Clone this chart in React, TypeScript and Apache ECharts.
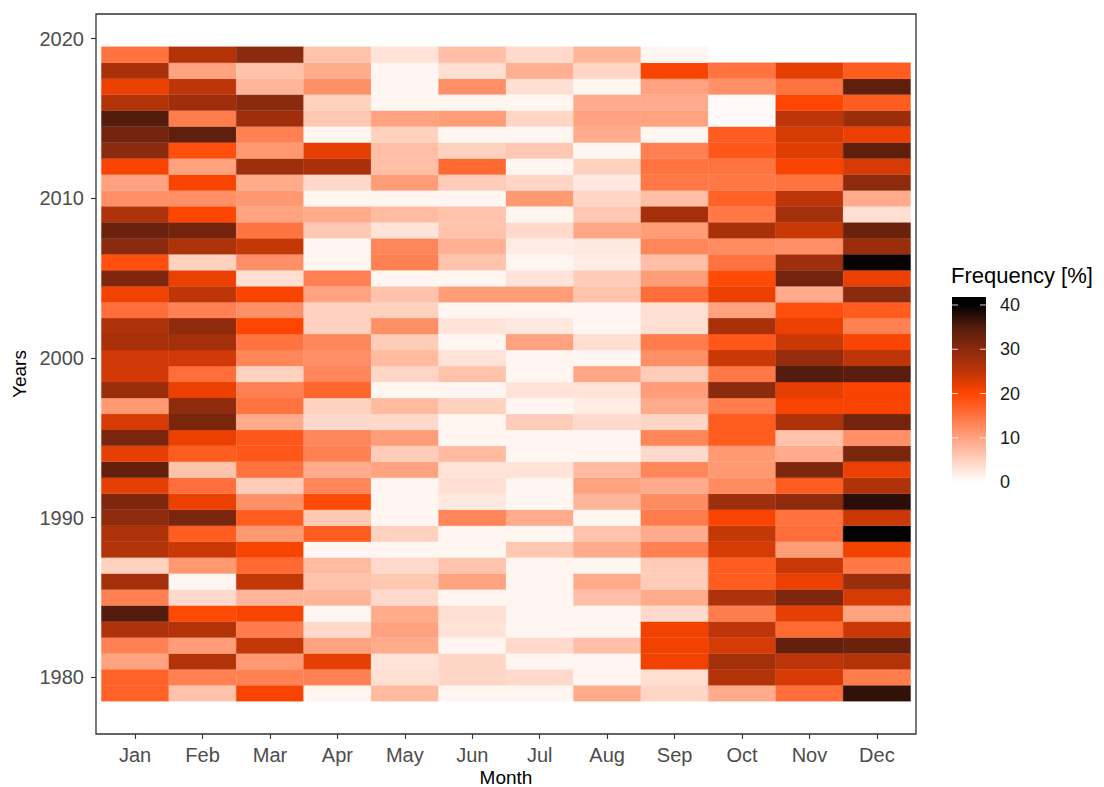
import React, { useEffect, useRef } from 'react';
import * as echarts from 'echarts';

const months = ['Jan', 'Feb', 'Mar', 'Apr', 'May', 'Jun', 'Jul', 'Aug', 'Sep', 'Oct', 'Nov', 'Dec'];
const firstYear = 1979;
const yearTicks = [1980, 1990, 2000, 2010, 2020];
const legendTicks = [0, 10, 20, 30, 40];
const colorStops = ['#FFFFFF', '#FFD1BF', '#FFA27F', '#FF7340', '#FF4500', '#BD3508', '#8A2A0E', '#541C0D', '#000000'];

// Frequency [%] per month, years 1979 .. 2019
const jan = [17, 17, 10, 13.5, 26.5, 35, 13.5, 27.5, 5, 26, 26.5, 29.5, 31, 22, 33.5, 22, 31.5, 23, 11, 28.5, 23.5, 23.5, 27, 26.5, 15.5, 21, 31, 19, 30, 33, 26.5, 12, 10, 20.5, 30, 32, 35, 26, 21.5, 27, 15];
const feb = [6.5, 13.5, 26, 10.5, 26, 19.5, 4, 1, 11, 24, 17.5, 31.5, 21.5, 15.5, 6.5, 17.5, 21.5, 31.5, 29.5, 21.5, 15.5, 23.5, 27.5, 29.5, 13.5, 25, 21.5, 5, 26.5, 32, 20, 12, 20.5, 10, 19, 34, 14, 28, 25, 10, 26];
const mar = [20.5, 13.5, 11, 24.5, 14, 20.5, 8, 24.5, 16, 20.5, 11, 17.5, 12, 5.5, 15, 18, 18, 9, 15, 13.5, 5, 13, 15, 20, 12, 20.5, 3.5, 12, 24.5, 15, 10, 11, 9, 28, 11, 13.5, 28, 30, 8, 6.5, 30];
const apr = [1, 13.5, 22, 10, 4, 1, 8, 6.5, 7.5, 1, 17.5, 6, 19.5, 13, 9, 13.5, 13, 4, 5, 16.5, 13, 12, 13, 5, 5, 10, 13.5, 1, 1, 6, 9, 1, 4, 27, 22, 1, 6, 5, 12, 9, 6.5];
const may = [7.5, 3.5, 3, 9, 10, 9, 4, 6, 4, 1, 5, 1, 1, 1, 10, 5.5, 10.5, 4, 7.5, 1, 4.5, 7.5, 5.5, 12, 5, 6.5, 1, 13.5, 13, 3, 7.5, 1, 10.5, 7, 7, 5, 10, 1, 1, 1, 3];
const jun = [1, 4.5, 4.5, 1, 3, 3.5, 1, 10, 6.5, 1, 1, 13, 2.5, 3.5, 3, 7.5, 1, 1, 5, 1, 6.5, 3, 1, 3, 1, 10.5, 1, 6.5, 8.5, 6.5, 6.5, 1, 5.5, 16, 5, 1, 10.5, 1, 12, 3.5, 7];
const jul = [1, 4, 1, 4, 1, 1, 1, 1, 1, 6, 1, 9, 1, 1, 3, 1, 1, 5.5, 1, 3, 1, 1, 10, 2.5, 1, 10.5, 3, 1, 2, 4, 1, 11, 4.5, 1, 6, 1, 4.5, 1, 3.5, 8.5, 4];
const aug = [9, 1, 1, 7, 1, 1, 7, 9, 1, 9, 6.5, 1, 8, 10, 7.5, 1, 1, 4, 2, 3, 9.5, 1, 3.5, 1, 1, 6.5, 5.5, 2, 2.5, 9.5, 6, 4.5, 2.5, 5, 1, 9, 10, 9, 1, 4.5, 8];
const sep = [4.5, 3.5, 21, 21, 21, 4, 9, 5.5, 5.5, 13.5, 9, 14, 12.5, 9, 13, 4, 13, 4.5, 9, 10.5, 5.5, 12, 14, 3.5, 3.5, 15.5, 10.5, 7, 13, 10.5, 27.5, 7, 14.5, 15, 13.5, 1, 10, 9, 10, 20.5, 1];
const oct = [9, 26, 27.5, 23, 25, 14, 26.5, 17.5, 17.5, 23, 24.5, 20.5, 28, 12.5, 11, 11, 17.5, 17.5, 14, 30, 14.5, 24, 18, 27, 10, 21.5, 19.5, 15, 12.5, 27, 14.5, 17, 14.5, 15, 18, 17.5, 0.5, 0.5, 12, 15, null];
const nov = [15.5, 23, 25, 33.5, 16, 22, 31, 21.5, 24, 10.5, 15.5, 15, 29.5, 17.5, 31, 9, 6.5, 26.5, 20.5, 22, 35, 29, 24, 21.5, 19, 9, 32, 28, 12, 24, 27.5, 25, 15, 20.5, 22.5, 23, 25, 20, 15, 22, null];
const dec = [37, 14, 26, 33, 24, 10, 23, 28.5, 14.5, 21, 40, 24, 37.5, 26.5, 21.5, 31.5, 12, 32, 20.5, 20.5, 34.5, 25, 20.5, 13.5, 17.5, 30, 21.5, 39.5, 28.5, 33, 3.5, 9, 29.5, 23, 34, 21.5, 28.5, 17.5, 34, 17.5, null];

const monthSeries = [jan, feb, mar, apr, may, jun, jul, aug, sep, oct, nov, dec];

const FONT = '"Liberation Sans", Arial, Helvetica, sans-serif';

export default function App() {
  const ref = useRef<HTMLDivElement>(null);

  useEffect(() => {
    if (!ref.current) return;
    const chart = echarts.init(ref.current, null, { renderer: 'svg' });

    const data: (number | null)[][] = [];
    monthSeries.forEach((vals, mi) => {
      vals.forEach((v, yi) => {
        if (v !== null && v !== undefined) data.push([mi, firstYear + yi, v]);
      });
    });

    // legend geometry
    const barTop = 297;
    const barBottom = 487;
    const barMaxV = 41.8;
    const barMinV = -1.1;
    const barX = 952;
    const barW = 34;
    const yOf = (v: number) => barBottom - ((v - barMinV) / (barMaxV - barMinV)) * (barBottom - barTop);
    const gradStops: { offset: number; color: string }[] = [{ offset: 0, color: '#000000' }];
    for (let i = colorStops.length - 1; i >= 0; i--) {
      const v = (i * 40) / (colorStops.length - 1);
      gradStops.push({ offset: (barMaxV - v) / (barMaxV - barMinV), color: colorStops[i] });
    }
    gradStops.push({ offset: 1, color: '#FFFFFF' });

    const legendGraphics: any[] = [
      {
        type: 'text',
        x: 951,
        y: 275,
        style: { text: 'Frequency [%]', font: `22px ${FONT}`, fill: '#000000', textVerticalAlign: 'middle', textAlign: 'left' },
      },
      {
        type: 'rect',
        shape: { x: barX, y: barTop, width: barW, height: barBottom - barTop },
        style: { fill: new echarts.graphic.LinearGradient(0, 0, 0, 1, gradStops) },
      },
    ];
    legendTicks.forEach((t) => {
      const y = yOf(t);
      legendGraphics.push({
        type: 'line',
        shape: { x1: barX, y1: y, x2: barX + 6, y2: y },
        style: { stroke: 'rgba(255,255,255,0.8)', lineWidth: 1 },
      });
      legendGraphics.push({
        type: 'line',
        shape: { x1: barX + barW - 6, y1: y, x2: barX + barW, y2: y },
        style: { stroke: 'rgba(255,255,255,0.8)', lineWidth: 1 },
      });
      legendGraphics.push({
        type: 'text',
        x: 1000,
        y,
        style: { text: String(t), font: `18px ${FONT}`, fill: '#1A1A1A', textVerticalAlign: 'middle', textAlign: 'left' },
      });
    });

    const option: any = {
      animation: false,
      backgroundColor: '#FFFFFF',
      textStyle: { fontFamily: FONT },
      grid: {
        left: 96,
        right: 188,
        top: 14,
        bottom: 53,
        containLabel: false,
        outerBoundsMode: 'none',
        show: true,
        borderColor: '#333333',
        borderWidth: 1.3,
        backgroundColor: 'transparent',
      },
      xAxis: {
        type: 'value',
        min: -0.58,
        max: 11.58,
        name: 'Month',
        nameLocation: 'middle',
        nameGap: 34,
        nameMoveOverlap: false,
        nameTextStyle: { fontSize: 19, lineHeight: 18, color: '#000000', fontFamily: FONT },
        axisLine: { show: false, onZero: false },
        splitLine: { show: false },
        axisTick: {
          show: true,
          customValues: months.map((_, i) => i),
          length: 5,
          lineStyle: { color: '#333333', width: 1.1 },
        },
        axisLabel: {
          customValues: months.map((_, i) => i),
          formatter: (v: number) => months[Math.round(v)] ?? '',
          fontSize: 20,
          color: '#4D4D4D',
          margin: 11,
          fontFamily: FONT,
        },
      },
      yAxis: {
        type: 'value',
        min: 1976.45,
        max: 2021.55,
        name: 'Years',
        nameLocation: 'middle',
        nameGap: 58,
        nameTextStyle: { fontSize: 19, color: '#000000', fontFamily: FONT },
        axisLine: { show: false, onZero: false },
        splitLine: { show: false },
        axisTick: {
          show: true,
          customValues: yearTicks,
          length: 5,
          lineStyle: { color: '#333333', width: 1.1 },
        },
        axisLabel: {
          customValues: yearTicks,
          formatter: (v: number) => String(Math.round(v)),
          fontSize: 20,
          color: '#4D4D4D',
          margin: 12,
          fontFamily: FONT,
        },
      },
      visualMap: {
        type: 'continuous',
        show: false,
        min: 0,
        max: 40,
        dimension: 2,
        seriesIndex: 0,
        inRange: { color: colorStops },
      },
      series: [
        {
          type: 'custom',
          data,
          encode: { x: 0, y: 1 },
          renderItem: (params: any, api: any) => {
            const x = api.value(0);
            const y = api.value(1);
            const p1 = api.coord([x - 0.5, y + 0.5]);
            const p2 = api.coord([x + 0.5, y - 0.5]);
            const color = api.visual('color');
            return {
              type: 'rect',
              shape: { x: p1[0], y: p1[1], width: p2[0] - p1[0], height: p2[1] - p1[1] },
              style: { fill: color, stroke: color, lineWidth: 0.3 },
            };
          },
        },
      ],
      graphic: legendGraphics,
    };

    chart.setOption(option);
    return () => chart.dispose();
  }, []);

  return <div ref={ref} style={{ position: 'fixed', left: 0, top: 0, width: 1104, height: 787 }} />;
}
